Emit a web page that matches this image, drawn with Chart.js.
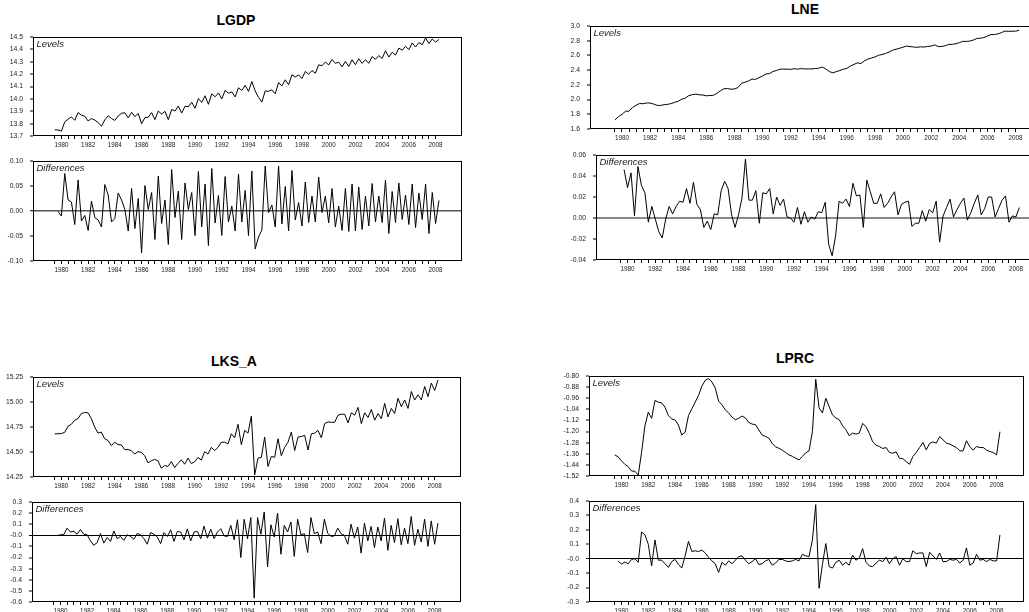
<!DOCTYPE html>
<html>
<head>
<meta charset="utf-8">
<script src="https://cdn.jsdelivr.net/npm/chart.js"></script>
<style>
  html, body { margin: 0; padding: 0; background: #fff; }
  body { position: relative; width: 1029px; height: 612px; overflow: hidden; }
  canvas { position: absolute; }
  .txt { position: absolute; white-space: nowrap; line-height: 1;
         font-family: Arial, "Liberation Sans", Helvetica, sans-serif; z-index: 2; }
  .ttl { font-weight: bold; font-size: 14px; color: #000; transform: translate(-50%, -50%); }
  .tag { font-style: italic; font-size: 9.5px; color: #222; transform: translate(0, -50%); }
</style>
</head>
<body>
<script>
// Quarterly sample 1980Q1 - 2008Q4; differences start at 1980Q2.
const firstYear = 1980;
const lastYear = 2008;

const lgdpLevels = [
  13.750, 13.749, 13.739, 13.814, 13.836, 13.854, 13.827, 13.889, 13.869, 13.860,
  13.821, 13.841, 13.828, 13.810, 13.778, 13.831, 13.863, 13.841, 13.826, 13.862,
  13.884, 13.887, 13.847, 13.892, 13.857, 13.882, 13.798, 13.849, 13.852, 13.889,
  13.832, 13.902, 13.877, 13.899, 13.832, 13.915, 13.902, 13.942, 13.885, 13.941,
  13.936, 13.973, 13.924, 14.003, 13.971, 14.025, 13.956, 14.041, 14.017, 14.048,
  13.999, 14.068, 14.046, 14.056, 14.016, 14.090, 14.068, 14.109, 14.060, 14.140,
  14.064, 14.012, 13.974, 14.064, 14.061, 14.073, 14.041, 14.131, 14.105, 14.154,
  14.114, 14.195, 14.177, 14.194, 14.164, 14.222, 14.199, 14.229, 14.207, 14.275,
  14.268, 14.298, 14.274, 14.319, 14.287, 14.297, 14.258, 14.303, 14.262, 14.316,
  14.276, 14.324, 14.287, 14.317, 14.287, 14.342, 14.320, 14.350, 14.327, 14.389,
  14.338, 14.377, 14.354, 14.410, 14.393, 14.425, 14.398, 14.452, 14.419, 14.455,
  14.438, 14.492, 14.447, 14.484, 14.459, 14.480
];
const lgdpDiffs = [
  -0.001, -0.010, 0.075, 0.022, 0.018, -0.027, 0.062, -0.020, -0.009, -0.039,
  0.020, -0.013, -0.018, -0.032, 0.053, 0.032, -0.022, -0.015, 0.036, 0.022,
  0.003, -0.040, 0.045, -0.035, 0.025, -0.084, 0.051, 0.003, 0.037, -0.057,
  0.070, -0.025, 0.022, -0.067, 0.083, -0.013, 0.040, -0.057, 0.056, 0.003,
  0.037, -0.049, 0.079, -0.032, 0.054, -0.069, 0.085, -0.024, 0.031, -0.049,
  0.069, -0.022, 0.010, -0.040, 0.074, -0.022, 0.041, -0.049, 0.080, -0.076,
  -0.052, -0.038, 0.090, -0.003, 0.012, -0.032, 0.090, -0.026, 0.049, -0.040,
  0.081, -0.018, 0.017, -0.030, 0.058, -0.023, 0.030, -0.022, 0.068, -0.003,
  0.030, -0.024, 0.045, -0.032, 0.010, -0.039, 0.045, -0.041, 0.054, -0.040,
  0.048, -0.037, 0.030, -0.030, 0.055, -0.022, 0.030, -0.023, 0.062, -0.045,
  0.039, -0.023, 0.056, -0.017, 0.032, -0.027, 0.054, -0.033, 0.036, -0.017,
  0.054, -0.045, 0.037, -0.025, 0.021
];

const lneLevels = [
  1.723, 1.769, 1.798, 1.841, 1.843, 1.892, 1.923, 1.947, 1.943, 1.954,
  1.953, 1.940, 1.921, 1.920, 1.931, 1.935, 1.946, 1.962, 1.977, 2.005,
  2.019, 2.053, 2.066, 2.074, 2.065, 2.062, 2.051, 2.055, 2.058, 2.084,
  2.119, 2.147, 2.150, 2.141, 2.144, 2.163, 2.219, 2.236, 2.253, 2.279,
  2.274, 2.298, 2.321, 2.349, 2.353, 2.383, 2.395, 2.413, 2.414, 2.414,
  2.410, 2.420, 2.414, 2.420, 2.416, 2.417, 2.416, 2.422, 2.427, 2.442,
  2.417, 2.381, 2.364, 2.380, 2.394, 2.412, 2.423, 2.456, 2.477, 2.499,
  2.490, 2.526, 2.551, 2.565, 2.579, 2.602, 2.612, 2.626, 2.646, 2.671,
  2.684, 2.697, 2.712, 2.728, 2.720, 2.715, 2.710, 2.717, 2.714, 2.722,
  2.727, 2.743, 2.720, 2.722, 2.732, 2.750, 2.751, 2.759, 2.773, 2.792,
  2.790, 2.795, 2.809, 2.831, 2.834, 2.843, 2.863, 2.883, 2.884, 2.893,
  2.910, 2.931, 2.927, 2.929, 2.930, 2.940
];
const lneDiffs = [
  0.046, 0.029, 0.043, 0.002, 0.049, 0.031, 0.024, -0.004, 0.011, -0.001,
  -0.013, -0.019, -0.001, 0.011, 0.004, 0.011, 0.016, 0.015, 0.028, 0.014,
  0.034, 0.013, 0.008, -0.009, -0.003, -0.011, 0.004, 0.003, 0.026, 0.035,
  0.028, 0.003, -0.009, 0.003, 0.019, 0.056, 0.017, 0.017, 0.026, -0.005,
  0.024, 0.023, 0.028, 0.004, 0.020, 0.012, 0.018, 0.001, 0.000, -0.004,
  0.010, -0.006, 0.006, -0.004, 0.001, -0.001, 0.006, 0.005, 0.015, -0.025,
  -0.036, -0.017, 0.016, 0.014, 0.018, 0.011, 0.033, 0.021, 0.022, -0.009,
  0.036, 0.025, 0.014, 0.014, 0.023, 0.010, 0.014, 0.020, 0.025, 0.003,
  0.013, 0.015, 0.016, -0.008, -0.005, -0.005, 0.007, -0.003, 0.008, 0.005,
  0.016, -0.023, 0.002, 0.010, 0.018, 0.001, 0.008, 0.014, 0.019, -0.002,
  0.005, 0.014, 0.022, 0.003, 0.009, 0.020, 0.020, 0.001, 0.009, 0.017,
  0.021, -0.004, 0.002, 0.001, 0.010
];

const lksLevels = [
  14.682, 14.682, 14.685, 14.696, 14.757, 14.777, 14.818, 14.834, 14.885, 14.895,
  14.892, 14.834, 14.750, 14.689, 14.699, 14.632, 14.615, 14.564, 14.598, 14.574,
  14.571, 14.524, 14.524, 14.514, 14.480, 14.503, 14.497, 14.463, 14.392, 14.412,
  14.426, 14.412, 14.338, 14.365, 14.355, 14.405, 14.345, 14.385, 14.422, 14.378,
  14.439, 14.385, 14.402, 14.446, 14.419, 14.503, 14.480, 14.547, 14.514, 14.547,
  14.598, 14.598, 14.581, 14.682, 14.642, 14.777, 14.574, 14.716, 14.689, 14.858,
  14.270, 14.439, 14.446, 14.649, 14.355, 14.456, 14.446, 14.632, 14.463, 14.547,
  14.598, 14.699, 14.514, 14.649, 14.655, 14.666, 14.520, 14.682, 14.689, 14.716,
  14.642, 14.784, 14.801, 14.797, 14.797, 14.868, 14.878, 14.878, 14.791, 14.892,
  14.868, 14.946, 14.784, 14.892, 14.845, 14.926, 14.818, 14.885, 14.834, 14.986,
  14.851, 14.936, 14.885, 15.037, 14.953, 15.020, 14.936, 15.105, 15.020, 15.071,
  15.020, 15.155, 15.054, 15.189, 15.115, 15.220
];
const lksDiffs = [
  -0.003, 0.005, 0.006, 0.065, 0.030, 0.037, 0.010, 0.052, 0.010, 0.005,
  -0.050, -0.090, -0.065, 0.015, -0.070, -0.020, -0.055, 0.040, -0.030, -0.010,
  -0.045, 0.005, -0.010, -0.035, 0.017, 0.005, -0.030, -0.080, 0.025, 0.010,
  -0.015, -0.075, 0.025, -0.010, 0.050, -0.055, 0.035, 0.030, -0.040, 0.058,
  -0.050, 0.030, 0.035, -0.030, 0.083, -0.025, 0.055, -0.030, 0.030, 0.060,
  -0.005, -0.010, 0.090, -0.040, 0.140, -0.200, 0.145, -0.030, 0.160, -0.565,
  0.160, 0.010, 0.210, -0.285, 0.095, -0.015, 0.200, -0.170, 0.090, 0.030,
  0.120, -0.190, 0.145, 0.005, 0.015, -0.155, 0.160, 0.015, 0.030, -0.075,
  0.145, 0.020, -0.010, -0.005, 0.065, 0.015, 0.000, -0.080, 0.100, -0.025,
  0.075, -0.160, 0.110, -0.050, 0.080, -0.110, 0.075, -0.050, 0.155, -0.135,
  0.090, -0.065, 0.150, -0.085, 0.065, -0.075, 0.170, -0.090, 0.055, -0.060,
  0.145, -0.100, 0.130, -0.080, 0.110
];

const lprcLevels = [
  -1.368, -1.382, -1.411, -1.436, -1.453, -1.484, -1.486, -1.513, -1.350, -1.158,
  -1.061, -1.105, -0.976, -0.989, -0.993, -1.025, -1.085, -1.109, -1.117, -1.153,
  -1.225, -1.206, -1.085, -1.037, -0.989, -0.940, -0.873, -0.831, -0.819, -0.843,
  -0.887, -0.981, -1.008, -1.044, -1.066, -1.097, -1.114, -1.105, -1.088, -1.102,
  -1.134, -1.146, -1.150, -1.189, -1.225, -1.235, -1.247, -1.286, -1.310, -1.320,
  -1.334, -1.351, -1.368, -1.378, -1.392, -1.404, -1.380, -1.353, -1.339, -1.201,
  -0.824, -1.030, -1.066, -0.960, -1.020, -1.080, -1.102, -1.114, -1.158, -1.187,
  -1.230, -1.211, -1.218, -1.211, -1.141, -1.165, -1.213, -1.274, -1.298, -1.308,
  -1.322, -1.315, -1.351, -1.356, -1.346, -1.392, -1.395, -1.416, -1.436, -1.380,
  -1.351, -1.315, -1.278, -1.332, -1.286, -1.274, -1.283, -1.237, -1.259, -1.283,
  -1.290, -1.303, -1.315, -1.339, -1.339, -1.266, -1.308, -1.334, -1.308, -1.315,
  -1.315, -1.334, -1.344, -1.351, -1.368, -1.201
];
const lprcDiffs = [
  -0.017, -0.037, -0.023, -0.035, -0.005, 0.000, -0.025, 0.185, 0.165, 0.100,
  -0.050, 0.130, -0.010, -0.010, -0.035, -0.060, -0.020, -0.005, -0.040, -0.065,
  0.020, 0.120, 0.050, 0.055, 0.050, 0.060, 0.040, 0.010, -0.015, -0.035,
  -0.095, -0.025, -0.045, -0.015, -0.035, -0.010, 0.015, 0.020, -0.010, -0.035,
  -0.020, 0.000, -0.040, -0.035, -0.015, -0.005, -0.045, -0.030, -0.005, -0.005,
  -0.015, -0.020, -0.015, -0.005, -0.015, 0.030, 0.020, 0.015, 0.130, 0.375,
  -0.205, -0.040, 0.105, -0.055, -0.065, -0.025, -0.010, -0.045, -0.025, -0.045,
  0.025, -0.010, 0.005, 0.070, -0.025, -0.050, -0.055, -0.030, -0.010, -0.020,
  0.010, -0.035, 0.000, 0.015, -0.045, 0.000, -0.020, -0.020, 0.055, 0.035,
  0.040, 0.040, -0.055, 0.045, 0.020, -0.005, 0.040, -0.020, -0.020, -0.005,
  -0.010, -0.005, -0.030, -0.010, 0.075, -0.045, -0.030, 0.030, -0.010, -0.005,
  -0.020, -0.005, -0.015, -0.015, 0.165
];

// y-axis tick values
const lgdpLevelTicks = [13.7, 13.8, 13.9, 14.0, 14.1, 14.2, 14.3, 14.4, 14.5];
const lgdpDiffTicks  = [-0.10, -0.05, 0, 0.05, 0.10];
const lneLevelTicks  = [1.6, 1.8, 2.0, 2.2, 2.4, 2.6, 2.8, 3.0];
const lneDiffTicks   = [-0.04, -0.02, 0, 0.02, 0.04, 0.06];
const lksLevelTicks  = [14.25, 14.50, 14.75, 15.00, 15.25];
const lksDiffTicks   = [-0.6, -0.5, -0.4, -0.3, -0.2, -0.1, 0, 0.1, 0.2, 0.3];
const lprcLevelTicks = [-1.52, -1.44, -1.36, -1.28, -1.20, -1.12, -1.04, -0.96, -0.88, -0.80];
const lprcDiffTicks  = [-0.3, -0.2, -0.1, 0, 0.1, 0.2, 0.3, 0.4];

// x-axis: ticks at Q1 and Q3 of each year, year label on every other year
const quarterX = i => firstYear + i / 4 + 0.125;
const xTickValues = [];
for (let y = firstYear; y <= lastYear; y++) xTickValues.push(y + 0.125, y + 0.625);
const xTickLabel = v => {
  const y = Math.floor(v);
  return (Math.abs(v - y - 0.625) < 1e-6 && y % 2 === 0) ? String(y) : '';
};

const FONT = 'Arial, "Liberation Sans", Helvetica, sans-serif';
Chart.defaults.font.family = FONT;

const framePlugin = {
  id: 'frame',
  afterDraw(chart) {
    const a = chart.chartArea, ctx = chart.ctx;
    const l = Math.round(a.left), t = Math.round(a.top);
    const r = Math.round(a.right), b = Math.round(a.bottom);
    ctx.save();
    ctx.strokeStyle = '#000';
    ctx.lineWidth = 1;
    ctx.strokeRect(l + 0.5, t + 0.5, r - l - 1, b - t - 1);
    ctx.restore();
  }
};

const PAD_TOP = 6;
const X_AXIS_H = 18;

function addText(cls, text, x, y) {
  const d = document.createElement('div');
  d.className = 'txt ' + cls;
  d.textContent = text;
  d.style.left = x + 'px';
  d.style.top = y + 'px';
  document.body.appendChild(d);
}

function drawPanel(p) {
  const [l, t, r, b] = p.box;
  const areaW = (r - l) + 1, areaH = (b - t) + 1;
  const w = p.yw + areaW;
  const h = PAD_TOP + areaH + X_AXIS_H;
  const cv = document.createElement('canvas');
  cv.width = w; cv.height = h;
  cv.style.left = (l - p.yw) + 'px';
  cv.style.top = (t - PAD_TOP) + 'px';
  document.body.appendChild(cv);

  const pts = p.values.map((v, k) => ({ x: quarterX(k + p.first), y: v }));
  const ticks = p.ticks;
  const fmt = v => (v === 0 && p.zeroText) ? p.zeroText : v.toFixed(p.dec);
  const zero = p.zero;

  const chart = new Chart(cv, {
    type: 'line',
    data: { datasets: [{
      data: pts, borderColor: '#000', borderWidth: 1,
      pointRadius: 0, tension: 0, fill: false
    }] },
    options: {
      responsive: false, animation: false, devicePixelRatio: 1,
      events: [],
      layout: { padding: { top: PAD_TOP, right: 0, bottom: 0, left: 0 } },
      plugins: { legend: { display: false }, tooltip: { enabled: false } },
      scales: {
        x: {
          type: 'linear', min: p.xr[0], max: p.xr[1],
          afterBuildTicks: s => { s.ticks = xTickValues.map(v => ({ value: v })); },
          afterFit: s => { s.height = X_AXIS_H; s.paddingLeft = 0; s.paddingRight = 0; },
          border: { display: false },
          grid: { drawOnChartArea: false, tickLength: 3, tickColor: '#000', tickWidth: 1 },
          ticks: { autoSkip: false, maxRotation: 0, minRotation: 0, padding: 2,
                   color: '#222', font: { size: 6.3 }, callback: v => xTickLabel(v) }
        },
        y: {
          type: 'linear', min: ticks[0], max: ticks[ticks.length - 1],
          afterBuildTicks: s => { s.ticks = ticks.map(v => ({ value: v })); },
          afterFit: s => { s.width = p.yw; s.paddingTop = 0; s.paddingBottom = 0; },
          border: { display: false },
          grid: {
            drawOnChartArea: !!zero,
            color: c => (zero && c.tick && c.tick.value === 0) ? zero.color : 'rgba(0,0,0,0)',
            lineWidth: c => (zero && c.tick && c.tick.value === 0) ? zero.width : 0,
            tickLength: 3, tickColor: '#000', tickWidth: 1
          },
          ticks: { autoSkip: false, padding: 7, color: '#222', font: { size: 6.8 },
                   callback: v => fmt(v) }
        }
      }
    },
    plugins: [framePlugin]
  });

  // keep the plotting area exactly on its box
  let ca = chart.chartArea;
  const gotH = ca.bottom - ca.top;
  if (Math.abs(gotH - areaH) > 0.5) {
    chart.resize(w, h + (areaH - gotH));
    ca = chart.chartArea;
  }
  cv.style.left = (l - ca.left) + 'px';
  cv.style.top = (t - ca.top) + 'px';

  addText('tag', p.tag, l + 3.5, t + 7);
}

const panels = [
  { title: 'LGDP', at: [236, 19.5], parts: [
    { tag: 'Levels', box: [33, 37, 461, 135], yw: 33, xr: [1978.5, 2010.6],
      values: lgdpLevels, first: 0, ticks: lgdpLevelTicks, dec: 1 },
    { tag: 'Differences', box: [33, 161, 461, 260], yw: 33, xr: [1978.5, 2010.6],
      values: lgdpDiffs, first: 1, ticks: lgdpDiffTicks, dec: 2,
      zero: { color: '#555', width: 1.5 } }
  ] },
  { title: 'LNE', at: [805, 9], parts: [
    { tag: 'Levels', box: [590, 26, 1043, 128], yw: 40, xr: [1978.35, 2010.65],
      values: lneLevels, first: 0, ticks: lneLevelTicks, dec: 1 },
    { tag: 'Differences', box: [596, 155, 1043, 259], yw: 46, xr: [1978.35, 2010.65],
      values: lneDiffs, first: 1, ticks: lneDiffTicks, dec: 2,
      zero: { color: '#888', width: 2 } }
  ] },
  { title: 'LKS_A', at: [234, 360.5], parts: [
    { tag: 'Levels', box: [33, 377, 460, 476], yw: 33, xr: [1978.5, 2010.6],
      values: lksLevels, first: 0, ticks: lksLevelTicks, dec: 2 },
    { tag: 'Differences', box: [32, 502, 460, 601], yw: 32, xr: [1978.5, 2010.6],
      values: lksDiffs, first: 1, ticks: lksDiffTicks, dec: 1, zeroText: '-0.0',
      zero: { color: '#000', width: 1 } }
  ] },
  { title: 'LPRC', at: [795, 358.3], parts: [
    { tag: 'Levels', box: [589, 376, 1023, 475], yw: 40, xr: [1978.2, 2010.67],
      values: lprcLevels, first: 0, ticks: lprcLevelTicks, dec: 2 },
    { tag: 'Differences', box: [589, 501, 1023, 601], yw: 40, xr: [1978.2, 2010.67],
      values: lprcDiffs, first: 1, ticks: lprcDiffTicks, dec: 1, zeroText: '-0.0',
      zero: { color: '#000', width: 1 } }
  ] }
];

panels.forEach(g => {
  addText('ttl', g.title, g.at[0], g.at[1]);
  g.parts.forEach(drawPanel);
});
</script>
</body>
</html>
